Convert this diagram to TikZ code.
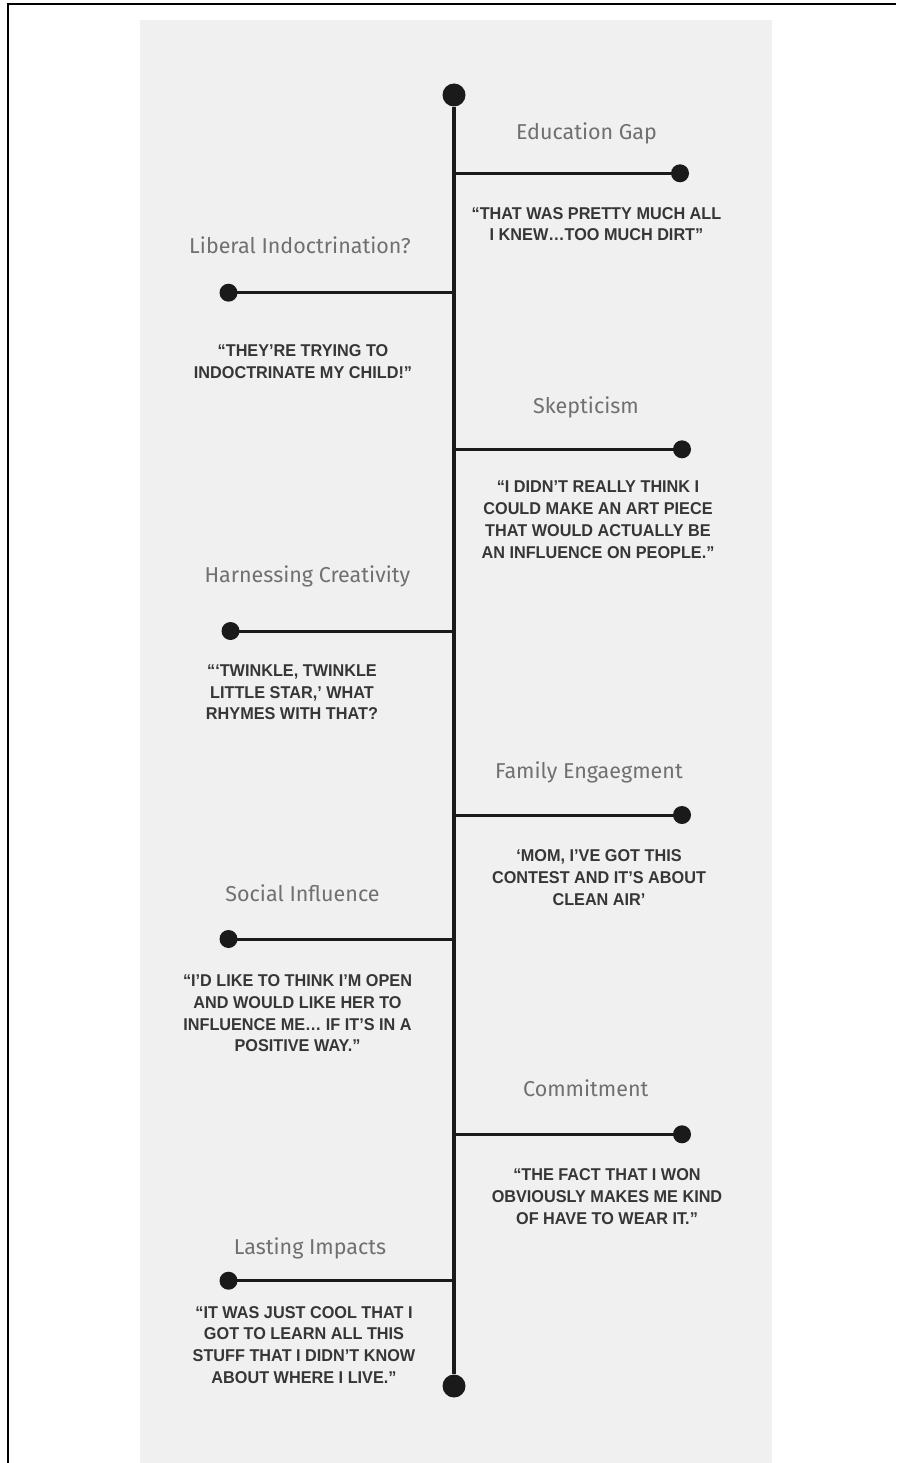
\documentclass[tikz,border=0pt]{standalone}
\usepackage{fontspec}
\setmainfont{Liberation Sans}
\newfontfamily\titlefont{Fira Sans}
\newfontfamily\quotefont[FakeStretch=0.95]{Liberation Sans}
\definecolor{panel}{HTML}{F0F0F0}
\definecolor{titlegray}{HTML}{707070}
\definecolor{quotegray}{HTML}{363636}
\definecolor{ink}{HTML}{1A1A1A}
\begin{document}
\begin{tikzpicture}[x=1pt,y=-1pt,
  title/.style={font=\titlefont\fontsize{21.5}{26}\selectfont, text=titlegray, anchor=base, inner sep=0pt},
  quote/.style={font=\quotefont\bfseries\fontsize{17.1}{21.8}\selectfont, text=quotegray, align=center, anchor=north, inner sep=0pt},
  enddot/.style={circle, fill=ink, inner sep=0pt, minimum size=18pt},
  bigdot/.style={circle, fill=ink, inner sep=0pt, minimum size=23pt},
  spine/.style={line width=4pt, draw=ink},
  branch/.style={line width=3pt, draw=ink},
  frame/.style={line width=2pt, draw=black}]
\useasboundingbox (0,0) rectangle (896,1463);
\fill[white] (0,0) rectangle (896,1463);
\fill[panel] (140,20) rectangle (771.5,1463);
\coordinate (fb) at (7.5,1463);
\coordinate (fc) at (7.5,4);
\coordinate (fr) at (896,4);
\draw[frame] (fb) -- (fc) -- (fr);
% spine
\node[bigdot] (top) at (454,95) {};
\node[bigdot] (bot) at (454,1386) {};
\draw[spine] (top) -- (bot);
% junctions
\coordinate (j1) at (454,173.3);
\coordinate (j2) at (454,292.7);
\coordinate (j3) at (454,449.3);
\coordinate (j4) at (454,631);
\coordinate (j5) at (454,815);
\coordinate (j6) at (454,939);
\coordinate (j7) at (454,1134.3);
\coordinate (j8) at (454,1280.7);
% end dots
\node[enddot] (d1) at (680,173.3) {};
\node[enddot] (d2) at (228.5,292.7) {};
\node[enddot] (d3) at (682,449.3) {};
\node[enddot] (d4) at (230.5,631) {};
\node[enddot] (d5) at (682,815) {};
\node[enddot] (d6) at (228.5,939) {};
\node[enddot] (d7) at (682,1134.3) {};
\node[enddot] (d8) at (228.5,1280.7) {};
\draw[branch] (j1) -- (d1.center);
\draw[branch] (j2) -- (d2.center);
\draw[branch] (j3) -- (d3.center);
\draw[branch] (j4) -- (d4.center);
\draw[branch] (j5) -- (d5.center);
\draw[branch] (j6) -- (d6.center);
\draw[branch] (j7) -- (d7.center);
\draw[branch] (j8) -- (d8.center);
% titles
\node[title] (t1) at (586.5,140) {Education Gap};
\node[title] (t2) at (300,253.3) {Liberal Indoctrination?};
\node[title] (t3) at (586,413.3) {Skepticism};
\node[title] (t4) at (307.3,582.7) {Harnessing Creativity};
\node[title] (t5) at (589,778.3) {Family Engaegment};
\node[title] (t6) at (302.5,901.7) {Social Influence};
\node[title] (t7) at (585.8,1096.7) {Commitment};
\node[title] (t8) at (310,1254) {Lasting Impacts};
% quotes
\node[quote] (q1) at (596.5,206.9) {“THAT WAS PRETTY MUCH ALL\\I KNEW…TOO MUCH DIRT”};
\node[quote] (q2) at (303,344.3) {“THEY’RE TRYING TO\\INDOCTRINATE MY CHILD!”};
\node[quote] (q3) at (598,480.9) {“I DIDN’T REALLY THINK I\\COULD MAKE AN ART PIECE\\THAT WOULD ACTUALLY BE\\AN INFLUENCE ON PEOPLE.”};
\node[quote] (q4) at (292,664.3) {“‘TWINKLE, TWINKLE\\LITTLE STAR,’ WHAT\\RHYMES WITH THAT?};
\node[quote] (q5) at (599,849.3) {‘MOM, I’VE GOT THIS\\CONTEST AND IT’S ABOUT\\CLEAN AIR’};
\node[quote] (q6) at (297.5,974.3) {“I’D LIKE TO THINK I’M OPEN\\AND WOULD LIKE HER TO\\INFLUENCE ME… IF IT’S IN A\\POSITIVE WAY.”};
\node[quote] (q7) at (607,1168.6) {“THE FACT THAT I WON\\OBVIOUSLY MAKES ME KIND\\OF HAVE TO WEAR IT.”};
\node[quote] (q8) at (304,1305.9) {“IT WAS JUST COOL THAT I\\GOT TO LEARN ALL THIS\\STUFF THAT I DIDN’T KNOW\\ABOUT WHERE I LIVE.”};
\end{tikzpicture}
\end{document}
